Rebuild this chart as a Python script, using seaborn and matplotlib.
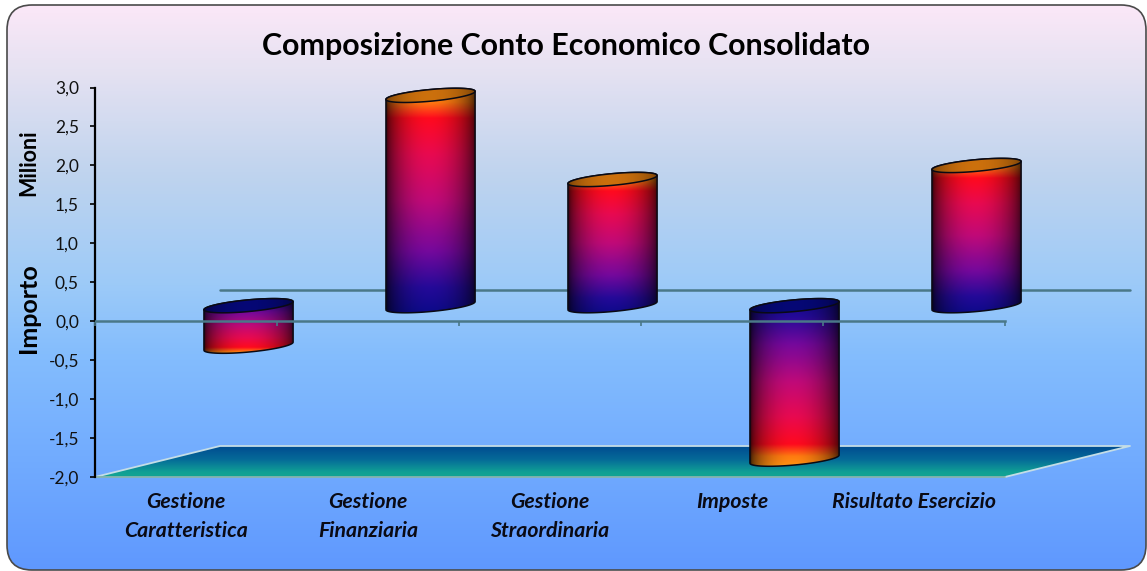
import numpy as np
import matplotlib
matplotlib.use("Agg")
import matplotlib.pyplot as plt
import seaborn as sns
from matplotlib.path import Path
from matplotlib.patches import PathPatch, FancyBboxPatch
from matplotlib.colors import LinearSegmentedColormap
from matplotlib.transforms import Affine2D

# ---- data ----
categories = ["Gestione Caratteristica", "Gestione Finanziaria", "Gestione Straordinaria",
              "Imposte", "Risultato Esercizio"]
tick_labels = ["Gestione\nCaratteristica", "Gestione\nFinanziaria", "Gestione\nStraordinaria",
               "Imposte", "Risultato Esercizio"]
values = [-0.52, 2.70, 1.62, -1.97, 1.80]
y_ticks = [-2.0, -1.5, -1.0, -0.5, 0.0, 0.5, 1.0, 1.5, 2.0, 2.5, 3.0]
title = "Composizione Conto Economico Consolidato"

sns.set_theme(style="white")
plt.rcParams["font.family"] = ["Lato", "DejaVu Sans"]

W, H = 1147, 571
fig = plt.figure(figsize=(W / 100, H / 100), dpi=100, facecolor="white")

# ---- panel background ----
bg = fig.add_axes([0, 0, 1, 1], zorder=-1)
bg.set_xlim(0, W); bg.set_ylim(H, 0); bg.axis("off")
bg_cmap = LinearSegmentedColormap.from_list("bg", [
    (0.00, "#fde8f8"), (0.12, "#e6e2f2"), (0.30, "#c0d4ee"), (0.50, "#9ccaf8"),
    (0.62, "#84bdfd"), (0.80, "#72acff"), (1.00, "#5f98fe")])
frame = FancyBboxPatch((32, 30), 1089, 515, boxstyle="round,pad=25,rounding_size=25",
                       transform=bg.transData, fc="none", ec="#4a4a4a", lw=1.2, zorder=3)
bg.add_patch(frame)
im = bg.imshow(np.linspace(0, 1, 256)[:, None], cmap=bg_cmap, extent=(0, W, H, 0),
               aspect="auto", origin="upper", zorder=1)
im.set_clip_path(frame)
bg.set_xlim(0, W); bg.set_ylim(H, 0)

# ---- main axes and seaborn bars ----
ax = fig.add_axes([95 / W, (H - 477) / H, 910 / W, 389.5 / H])
ax.patch.set_visible(False)
sns.barplot(x=categories, y=values, width=0.49, errorbar=None, ax=ax)
ax.set_xlim(-0.5, 4.5)
ax.set_ylim(-2.0, 3.0)

DEPTH_X, DEPTH_Y = 0.687, 0.398
half_tr = Affine2D().translate(DEPTH_X / 2, DEPTH_Y / 2) + ax.transData
back_tr = Affine2D().translate(DEPTH_X, DEPTH_Y) + ax.transData

body_cmap = LinearSegmentedColormap.from_list("body", [
    (0.00, "#ff9a14"), (0.07, "#ff7a10"), (0.14, "#ff0a1e"), (0.30, "#e80a50"),
    (0.50, "#c00a78"), (0.72, "#74089c"), (0.88, "#240a98"), (1.00, "#0a0a88")])


def ell(cx, cy, a, tilt, b, t):
    return np.column_stack([cx + a * np.cos(t), cy + tilt * np.cos(t) + b * np.sin(t)])


def shade_h(n, floor=0.22):
    u = np.linspace(0, 1, n)
    return floor + (1 - floor) * np.sin(np.pi * u ** 0.95) ** 0.6


def gradient_image(path, rgb, extent, z):
    i = ax.imshow(rgb, extent=extent, origin="upper", aspect="auto",
                  transform=half_tr, zorder=z, interpolation="bilinear")
    i.set_clip_path(path, half_tr)
    i.set_clip_box(fig.bbox)


TILT, MINOR = 0.052, 0.075
for bar, val in zip(list(ax.patches), values):
    bar.set_alpha(0)
    x0, w = bar.get_x(), bar.get_width()
    cx, a = x0 + w / 2, w / 2
    low = min(bar.get_y(), bar.get_y() + bar.get_height())
    high = max(bar.get_y(), bar.get_y() + bar.get_height())

    # silhouette: outer arc of the low ellipse, then the upper arc of the high one
    low_arc = ell(cx, low, a, TILT, MINOR, np.linspace(np.pi, 2 * np.pi, 60))
    high_arc = ell(cx, high, a, TILT, MINOR, np.linspace(0, np.pi, 60))
    pts = np.vstack([low_arc, high_arc, low_arc[:1]])
    body = Path(pts)

    rows, cols = 260, 70
    t = np.linspace(0, 1, rows) if val > 0 else np.linspace(1, 0, rows)
    rgb = body_cmap(t)[:, :3][:, None, :] * shade_h(cols)[None, :, None]
    extent = (cx - a, cx + a, low - MINOR - TILT, high + MINOR + TILT)
    gradient_image(body, rgb, extent, 2.0)
    ax.add_patch(PathPatch(body, fc="none", ec="#0a0a14", lw=1.1, transform=half_tr,
                           zorder=2.1, clip_on=False))

    # end cap at the top of the cylinder
    cap = Path(ell(cx, high, a, TILT, MINOR, np.linspace(0, 2 * np.pi, 120)))
    cap_col = np.array([0.80, 0.44, 0.05]) if val > 0 else np.array([0.02, 0.03, 0.46])
    cap_rgb = cap_col[None, None, :] * shade_h(cols, 0.55)[None, :, None]
    gradient_image(cap, cap_rgb, (cx - a, cx + a, high - MINOR - TILT, high + MINOR + TILT), 2.2)
    ax.add_patch(PathPatch(cap, fc="none", ec="#0a0a14", lw=1.1, transform=half_tr,
                           zorder=2.3, clip_on=False))

# ---- floor ----
floor_pts = [(-0.5, -2.0), (4.5, -2.0), (4.5 + DEPTH_X, -2.0 + DEPTH_Y), (-0.5 + DEPTH_X, -2.0 + DEPTH_Y)]
floor_cmap = LinearSegmentedColormap.from_list("floor", [(0, "#004a90"), (0.45, "#056a98"), (0.85, "#10a095"), (1, "#12a494")])
fl = ax.imshow(np.linspace(0, 1, 64)[:, None], cmap=floor_cmap,
               extent=(-0.5, 4.5 + DEPTH_X, -2.0, -2.0 + DEPTH_Y),
               origin="upper", aspect="auto", zorder=1.0)
fl.set_clip_path(Path(floor_pts + floor_pts[:1]), ax.transData)
fl.set_clip_box(fig.bbox)
fx, fy = zip(*floor_pts)
ax.plot([fx[1], fx[2], fx[3], fx[0]], [fy[1], fy[2], fy[3], fy[0]], color="#c4dde6", lw=1.3,
        zorder=1.1, clip_on=False)
ax.plot([fx[0], fx[1]], [fy[0], fy[1]], color="#86b4ae", lw=1.3, zorder=1.1, clip_on=False)

# ---- rear zero line ----
ax.plot([-0.5, 4.5], [0, 0], color="#4a7888", lw=1.8, transform=back_tr, zorder=1.2, clip_on=False)

ax.set_xlim(-0.5, 4.5)
ax.set_ylim(-2.0, 3.0)

# ---- axes styling ----
ax.set_axisbelow(False)
for s in ("top", "right"):
    ax.spines[s].set_visible(False)
ax.spines["left"].set_color("#000000")
ax.spines["left"].set_linewidth(1.6)
ax.spines["bottom"].set_position(("data", 0))
ax.spines["bottom"].set_color("#4a7888")
ax.spines["bottom"].set_linewidth(1.8)

ax.set_xticks(np.arange(-0.5, 5.0, 1.0))
ax.set_xticklabels([])
ax.tick_params(axis="x", bottom=True, length=3.6, width=1.2, color="#4a7888", direction="out")
ax.set_yticks(y_ticks)
ax.set_yticklabels([f"{v:.1f}".replace(".", ",") for v in y_ticks], fontsize=12.5, color="#111111")
ax.tick_params(axis="y", left=True, length=3.6, width=1.2, color="#000000", direction="out", pad=8)

sec = ax.secondary_xaxis("bottom")
sec.set_xticks(np.arange(len(tick_labels)))
sec.set_xticklabels(tick_labels, fontsize=15.3, fontweight="bold", fontstyle="italic",
                    color="#0a0a14", linespacing=1.55)
sec.tick_params(axis="x", length=0, pad=11)
sec.spines["bottom"].set_visible(False)

ax.set_xlabel("")
ax.set_ylabel("Importo", fontsize=18, fontweight="bold", color="#000000")
ax.yaxis.set_label_coords((40 - 95) / 910, (477 - 308) / 389.5)
fig.text(29 / W, 1 - 163 / H, "Milioni", rotation=90, fontsize=15.5, fontweight="bold",
         color="#000000", ha="center", va="center")
ax.set_title(title, fontsize=21.9, fontweight="bold", color="#000000",
             x=(566 - 95) / 910, y=(477 - 46) / 389.5, va="center", pad=0)

fig.savefig("out.png", dpi=100, facecolor="white")
